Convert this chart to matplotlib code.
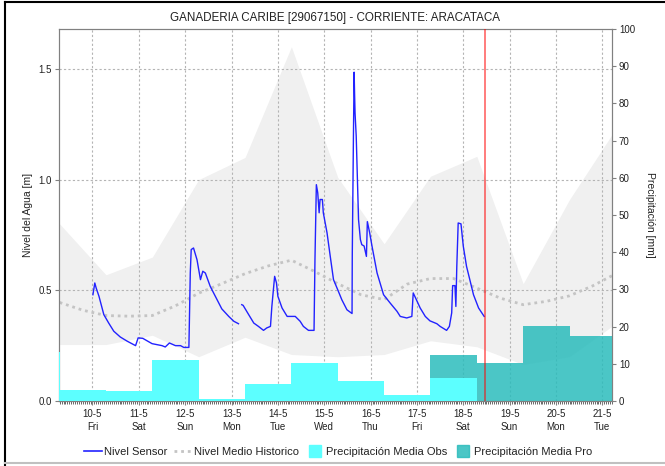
import numpy as np
import pandas as pd
import matplotlib
matplotlib.use("Agg")
import matplotlib.pyplot as plt
import matplotlib.dates as mdates
from matplotlib.lines import Line2D

plt.rcParams['font.family'] = ['Liberation Sans', 'DejaVu Sans']

t0 = pd.Timestamp("2024-05-10 00:00")

# Nivel sensor: dias desde 10-5 00:00 y nivel [m] (NaN = hueco de datos)
sensor_day = [0.01, 0.05, 0.08, 0.14, 0.245, 0.35, 0.46, 0.60, 0.75, 0.93,
              0.985, 1.085, 1.285, 1.50, 1.57, 1.66, 1.79, 1.90, 1.97, 2.08,
              2.09, 2.11, 2.13, 2.18, 2.255, 2.33, 2.38, 2.435, 2.54, 2.65,
              2.79, 2.94, 3.05, 3.15, 3.18,
              3.22, 3.25, 3.37, 3.48, 3.58, 3.69, 3.76, 3.84, 3.87, 3.91,
              3.93, 3.97, 4.00, 4.09, 4.20, 4.375, 4.48, 4.55, 4.66, 4.78,
              4.80, 4.83, 4.86, 4.89, 4.91, 4.96, 4.98, 5.06, 5.13, 5.20,
              5.29, 5.38, 5.49, 5.60, 5.605, 5.63, 5.645, 5.655, 5.665, 5.69,
              5.74, 5.78, 5.81, 5.86, 5.91, 5.93, 5.98, 6.03, 6.14, 6.28,
              6.42, 6.57, 6.64, 6.78, 6.89, 6.92, 6.96, 7.07, 7.18, 7.28,
              7.43, 7.50, 7.64, 7.70, 7.75, 7.77, 7.82, 7.84, 7.86, 7.89,
              7.95, 8.00, 8.07, 8.15, 8.22, 8.33, 8.45]
sensor_m = [0.48, 0.533, 0.51, 0.473, 0.39, 0.352, 0.315, 0.289, 0.27, 0.25,
            0.285, 0.283, 0.259, 0.25, 0.244, 0.262, 0.25, 0.25, 0.242, 0.242,
            0.352, 0.578, 0.684, 0.691, 0.638, 0.548, 0.586, 0.578, 0.518, 0.473,
            0.416, 0.382, 0.36, 0.349, np.nan,
            0.435, 0.432, 0.39, 0.352, 0.337, 0.319, 0.33, 0.337, 0.427, 0.518,
            0.563, 0.533, 0.473, 0.42, 0.382, 0.382, 0.36, 0.337, 0.319, 0.319,
            0.638, 0.977, 0.94, 0.85, 0.91, 0.91, 0.85, 0.76, 0.653, 0.548,
            0.503, 0.457, 0.412, 0.395, 0.661, 1.196, 1.485, 1.384, 1.30, 1.196,
            0.819, 0.729, 0.706, 0.70, 0.653, 0.81, 0.76, 0.70, 0.578, 0.48,
            0.443, 0.405, 0.382, 0.375, 0.382, 0.488, 0.47, 0.42, 0.382, 0.362,
            0.349, 0.337, 0.319, 0.337, 0.398, 0.521, 0.521, 0.427, 0.608, 0.804,
            0.80, 0.699, 0.608, 0.54, 0.48, 0.42, 0.382]

# Historico diario (07:00): maximo y minimo [m]
hist_max = [0.80, 0.57, 0.65, 1.00, 1.10, 1.60, 1.01, 0.71, 1.015, 1.105, 0.53, 0.91, 1.23]
hist_min = [0.255, 0.255, 0.297, 0.20, 0.288, 0.21, 0.20, 0.21, 0.272, 0.245, 0.165, 0.20, 0.35]

# Nivel medio historico cada 12 h [m]
hist_mean = [0.445, 0.41, 0.386, 0.383, 0.386, 0.43, 0.487, 0.53, 0.575, 0.61,
             0.636, 0.585, 0.53, 0.48, 0.458, 0.528, 0.553, 0.553, 0.51, 0.465,
             0.435, 0.45, 0.475, 0.52, 0.575]

# Precipitacion diaria [mm] (dia pluviometrico que empieza a las 07:00)
obs_mm = [13.1, 2.9, 2.6, 11.0, 0.5, 4.5, 10.1, 5.4, 1.7, 6.2]
pro_mm = [12.4, 10.2, 20.1, 17.6]

tick_days = ['10-5', '11-5', '12-5', '13-5', '14-5', '15-5',
             '16-5', '17-5', '18-5', '19-5', '20-5', '21-5']
tick_wd = ['Fri', 'Sat', 'Sun', 'Mon', 'Tue', 'Wed',
           'Thu', 'Fri', 'Sat', 'Sun', 'Mon', 'Tue']

now = pd.Timestamp("2024-05-18 11:30")

sensor_t = t0 + pd.to_timedelta(sensor_day, unit='D')
hist_t = pd.date_range("2024-05-09 07:00", periods=len(hist_max), freq="D")
mean_t = pd.date_range("2024-05-09 07:00", periods=len(hist_mean), freq="12h")
obs_t = pd.date_range("2024-05-08 07:00", periods=len(obs_mm), freq="D")
pro_t = pd.date_range("2024-05-17 07:00", periods=len(pro_mm), freq="D")
tick_t = pd.date_range("2024-05-10", periods=len(tick_days), freq="D")

c_sensor = '#2222ff'
c_mean = '#c4c4c4'
c_obs = '#5cffff'
c_pro = '#2bbcbc'
c_text = '#222222'
c_axis = '#808080'

fig = plt.figure(figsize=(6.65, 4.66), dpi=100)
ax = fig.add_axes([59 / 665, 65 / 466, 553 / 665, 372 / 466])
ax2 = ax.twinx()

# nivel
ax.fill_between(hist_t, hist_min, hist_max, color='#f0f0f0', lw=0, zorder=1)
ax.plot(mean_t, hist_mean, color=c_mean, lw=2, ls=(0, (1, 1.4)), zorder=2)
ax.plot(sensor_t, sensor_m, color=c_sensor, lw=1.0, zorder=3)

# precipitacion
ax2.bar(pro_t, pro_mm, width=1, align='edge', color=c_pro, alpha=0.85, lw=0, zorder=2)
ax2.bar(obs_t, obs_mm, width=1, align='edge', color=c_obs, lw=0, zorder=3)
ax2.axvline(now, color='red', alpha=0.6, lw=1.2, zorder=5)

ax.set_xlim(pd.Timestamp("2024-05-09 06:40"), pd.Timestamp("2024-05-21 05:00"))
ax.set_ylim(0, 1.68)
ax2.set_ylim(0, 100)

ax.set_xticks(tick_t)
ax.set_xticklabels([f"{d}\n{w}" for d, w in zip(tick_days, tick_wd)], linespacing=1.35)
ax.xaxis.set_minor_locator(mdates.HourLocator())
ax.set_yticks([0, 0.5, 1.0, 1.5])
ax.set_yticklabels(['0.0', '0.5', '1.0', '1.5'])
ax2.set_yticks(range(0, 101, 10))

ax.grid(True, which='major', color='#b4b4b4', ls=(0, (2, 2)), lw=0.8)
ax.set_axisbelow('line')

for a in (ax, ax2):
    for s in a.spines.values():
        s.set_color(c_axis)
        s.set_linewidth(0.8)
    a.tick_params(which='major', length=3, width=0.8, color=c_axis,
                  labelsize=7, labelcolor=c_text, pad=2)
ax.tick_params(axis='x', which='minor', length=2, width=0.6, color='#505050')
ax.tick_params(axis='x', which='major', length=3, pad=3)
ax2.tick_params(axis='y', pad=2)

ax.set_title("GANADERIA CARIBE [29067150] - CORRIENTE: ARACATACA",
             fontsize=8.4, color=c_text, pad=6)
fig.text(28 / 665, 1 - 215 / 466, "Nivel del Agua [m]", rotation=90,
         ha='center', va='center', fontsize=7.5, color=c_text)
fig.text(650 / 665, 1 - 215 / 466, "Precipitación [mm]", rotation=270,
         ha='center', va='center', fontsize=7.5, color=c_text)

handles = [
    Line2D([], [], color=c_sensor, lw=1.2),
    Line2D([], [], color=c_mean, lw=2, ls=(0, (1, 1.4))),
    Line2D([], [], marker='s', ms=9, ls='none', color=c_obs),
    Line2D([], [], marker='s', ms=9, ls='none', color=c_pro, alpha=0.85),
]
labels = ["Nivel Sensor", "Nivel Medio Historico",
          "Precipitación Media Obs", "Precipitación Media Pro"]
fig.legend(handles, labels, loc='center', bbox_to_anchor=(338 / 665, 1 - 452 / 466),
           ncol=4, frameon=False, fontsize=8, handlelength=1.6,
           handletextpad=0.2, columnspacing=0.6, labelcolor=c_text)

# marco de la figura
fig.add_artist(Line2D([5 / 665, 5 / 665], [0.5 / 466, 1 - 2 / 466], color='black', lw=1.5))
fig.add_artist(Line2D([5 / 665, 1], [1 - 2 / 466, 1 - 2 / 466], color='black', lw=1.5))
fig.add_artist(Line2D([5 / 665, 1], [3 / 466, 3 / 466], color='#c0c0c0', lw=1.5))

fig.savefig("out.png", dpi=100)
